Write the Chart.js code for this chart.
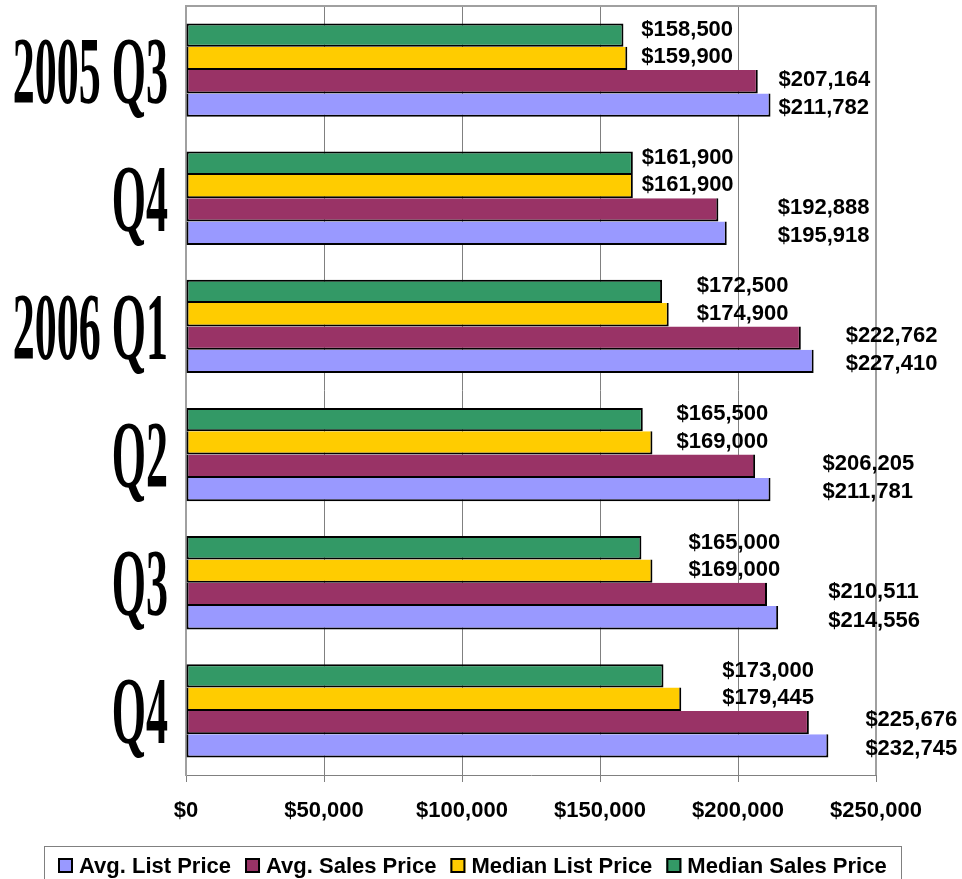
<!DOCTYPE html>
<html>
<head>
<meta charset="utf-8">
<title>Quarterly Prices</title>
<script src="https://cdn.jsdelivr.net/npm/chart.js@4.4.1/dist/chart.umd.min.js"></script>
<style>
  html, body { margin: 0; padding: 0; background: #ffffff; }
  canvas { display: block; }
</style>
</head>
<body>
<canvas id="priceChart" width="962" height="879"></canvas>
<script>
// Quarter labels, top to bottom
const categories = ['2005 Q3', 'Q4', '2006 Q1', 'Q2', 'Q3', 'Q4'];

// Price series per quarter (dollars)
const avgListPrice     = [211782, 195918, 227410, 211781, 214556, 232745];
const avgSalesPrice    = [207164, 192888, 222762, 206205, 210511, 225676];
const medianListPrice  = [159900, 161900, 174900, 169000, 169000, 179445];
const medianSalesPrice = [158500, 161900, 172500, 165500, 165000, 173000];

// Value axis ticks
const xTickValues = [0, 50000, 100000, 150000, 200000, 250000];

// Value label placement: gap (px) after the longer bar of each pair, per quarter
const medianLabelGap = [14, 9, 28, 24, 36, 41];
const avgLabelGap    = [8, 51, 32, 52, 50, 37];
// vertical nudge (px) of each series' label relative to its bar
const seriesLabelNudge = [-7, -3, -4, 1];

const money = v => '$' + v.toLocaleString('en-US');

const SANS = '"Liberation Sans", Arial, Helvetica, sans-serif';
const SERIF = '"Liberation Serif", "Times New Roman", serif';
const TEXT_SIZE = 22;

// Top of each group is Median Sales, bottom is Avg. List.
// Bars inside a group share their edge lines, so only the top bar draws a top edge.
const datasets = [
  { label: 'Median Sales Price', data: medianSalesPrice, backgroundColor: '#339966', borderSkipped: false },
  { label: 'Median List Price',  data: medianListPrice,  backgroundColor: '#FFCC00', borderSkipped: 'top' },
  { label: 'Avg. Sales Price',   data: avgSalesPrice,    backgroundColor: '#993366', borderSkipped: 'top' },
  { label: 'Avg. List Price',    data: avgListPrice,     backgroundColor: '#9999FF', borderSkipped: 'top' }
].map(d => Object.assign(d, {
  borderColor: '#000000',
  borderWidth: 2,
  barPercentage: 1.0,
  categoryPercentage: 0.728,
  inflateAmount: 0
}));

// Gray frame on the top and right of the plot area
const plotFrame = {
  id: 'plotFrame',
  beforeDatasetsDraw(chart) {
    const { ctx, chartArea: a } = chart;
    ctx.save();
    ctx.strokeStyle = '#a0a0a0';
    ctx.lineWidth = 2;
    ctx.beginPath();
    ctx.moveTo(a.left, a.top);
    ctx.lineTo(a.right, a.top);
    ctx.lineTo(a.right, a.bottom);
    ctx.stroke();
    ctx.restore();
  }
};

// Tall condensed quarter names on the category axis
const quarterLabels = {
  id: 'quarterLabels',
  afterDraw(chart) {
    const { ctx } = chart;
    const yScale = chart.scales.y;
    const right = yScale.right - 18;
    ctx.save();
    ctx.fillStyle = '#000000';
    ctx.font = 'bold 44px ' + SERIF;
    ctx.textAlign = 'right';
    ctx.textBaseline = 'alphabetic';
    categories.forEach((name, i) => {
      const y = yScale.getPixelForValue(i);
      ctx.save();
      ctx.translate(right, y + 32.5);
      ctx.scale(1, 2.15);
      ctx.fillText(name, 0, 0);
      ctx.restore();
    });
    ctx.restore();
  }
};

// Dollar value labels to the right of each pair of bars
const valueLabels = {
  id: 'valueLabels',
  afterDatasetsDraw(chart) {
    const { ctx } = chart;
    const metas = chart.data.datasets.map((_, i) => chart.getDatasetMeta(i));
    ctx.save();
    ctx.fillStyle = '#000000';
    ctx.font = 'bold ' + TEXT_SIZE + 'px ' + SANS;
    ctx.textAlign = 'left';
    ctx.textBaseline = 'alphabetic';
    const capHalf = TEXT_SIZE * 0.716 / 2;
    categories.forEach((_, i) => {
      const pairs = [[0, 1, medianLabelGap[i]], [2, 3, avgLabelGap[i]]];
      pairs.forEach(([a, b, gap]) => {
        const ea = metas[a].data[i], eb = metas[b].data[i];
        const x = Math.max(ea.x, eb.x) + gap;
        [a, b].forEach(k => {
          const el = metas[k].data[i];
          const v = chart.data.datasets[k].data[i];
          ctx.fillText(money(v), x, el.y + seriesLabelNudge[k] + capHalf);
        });
      });
    });
    ctx.restore();
  }
};

// Boxed legend row under the axis, listed from the bottom bar upward
const boxedLegend = {
  id: 'boxedLegend',
  afterDraw(chart) {
    const { ctx } = chart;
    const items = chart.data.datasets.slice().reverse();
    const boxLeft = 44, boxRight = 901, boxTop = 846;
    const marker = 15, markerGap = 6, itemGap = 14;
    ctx.save();
    ctx.font = 'bold ' + TEXT_SIZE + 'px ' + SANS;
    const widths = items.map(d => ctx.measureText(d.label).width);
    const total = widths.reduce((s, w) => s + marker + markerGap + w, 0) + itemGap * (items.length - 1);
    let x = Math.round((boxLeft + boxRight) / 2 - total / 2);
    const midY = 865;

    ctx.strokeStyle = '#808080';
    ctx.lineWidth = 1;
    ctx.strokeRect(boxLeft + 0.5, boxTop + 0.5, boxRight - boxLeft, 60);

    ctx.textAlign = 'left';
    ctx.textBaseline = 'alphabetic';
    items.forEach((d, i) => {
      const top = Math.round(midY - marker / 2);
      ctx.fillStyle = d.backgroundColor;
      ctx.fillRect(x, top, marker, marker);
      ctx.strokeStyle = '#000000';
      ctx.lineWidth = 2;
      ctx.strokeRect(x + 1, top + 1, marker - 2, marker - 2);
      ctx.fillStyle = '#000000';
      ctx.fillText(d.label, x + marker + markerGap, midY + TEXT_SIZE * 0.716 / 2);
      x += marker + markerGap + widths[i] + itemGap;
    });
    ctx.restore();
  }
};

new Chart(document.getElementById('priceChart'), {
  type: 'bar',
  data: { labels: categories, datasets },
  plugins: [plotFrame, valueLabels, quarterLabels, boxedLegend],
  options: {
    indexAxis: 'y',
    responsive: false,
    animation: false,
    devicePixelRatio: 1,
    layout: { padding: { top: 6, right: 86, bottom: 44, left: 0 } },
    plugins: {
      legend: { display: false },
      tooltip: { enabled: false }
    },
    scales: {
      x: {
        type: 'linear',
        position: 'bottom',
        min: xTickValues[0],
        max: xTickValues[xTickValues.length - 1],
        afterBuildTicks(scale) {
          scale.ticks = xTickValues.map(v => ({ value: v }));
        },
        afterFit(scale) { scale.height = 60; },
        grid: {
          color: '#808080',
          lineWidth: 1,
          tickLength: 7,
          drawOnChartArea: true,
          drawTicks: true
        },
        border: { display: true, color: '#808080', width: 1 },
        ticks: {
          padding: 16,
          color: '#000000',
          maxRotation: 0,
          font: { family: SANS, size: TEXT_SIZE, weight: 'bold' },
          callback: v => money(v)
        }
      },
      y: {
        type: 'category',
        offset: true,
        afterFit(scale) { scale.width = 186; },
        grid: { display: false, drawTicks: false },
        border: { display: true, color: '#a0a0a0', width: 2 },
        ticks: { display: false }
      }
    }
  }
});
</script>
</body>
</html>
